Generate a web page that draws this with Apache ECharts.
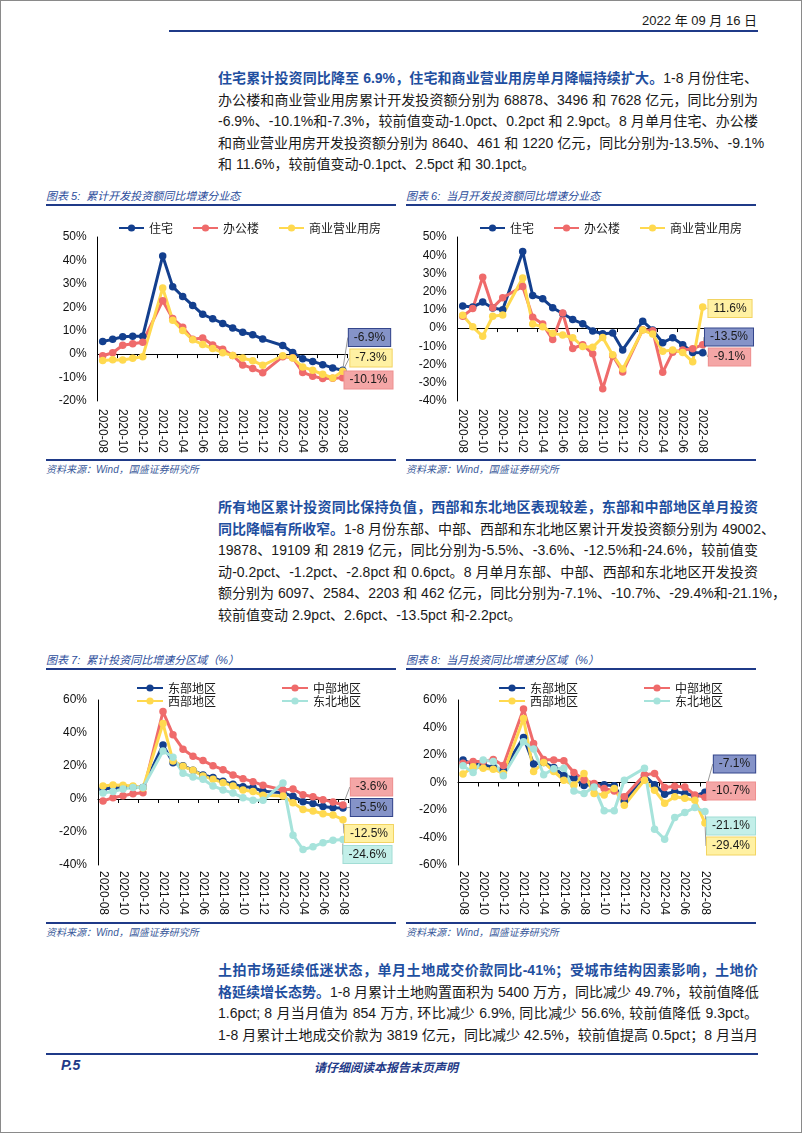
<!DOCTYPE html>
<html><head><meta charset="utf-8">
<script src="https://cdn.jsdelivr.net/npm/echarts@6/dist/echarts.min.js"></script>
<style>
html,body{margin:0;padding:0;background:#fff;}
#page{position:relative;width:802px;height:1133px;box-sizing:border-box;border:1px solid #8a8a8a;overflow:hidden;font-family:"Liberation Sans","Noto Sans CJK SC",sans-serif;color:#1a1a1a;}
.abs{position:absolute;}
.hline{position:absolute;height:2px;background:#1f3a88;}
.para{position:absolute;left:217px;width:540px;font-size:14px;line-height:21.6px;}
.para div{white-space:nowrap;text-align:justify;text-align-last:justify;}
.para div.last{text-align-last:left;}
.b{color:#1f4fa0;font-weight:bold;}
.ttl{position:absolute;font-size:11px;font-style:italic;color:#2b4c9b;white-space:nowrap;}
.src{position:absolute;font-size:10px;font-style:italic;color:#3a5a9a;white-space:nowrap;}
.chart{position:absolute;width:360px;height:250px;}
</style></head>
<body><div id="page">
<div class="abs" style="right:44px;top:9px;font-size:13px;">2022 年 09 月 16 日</div>
<div class="hline" style="left:168px;top:29px;width:589px;"></div>

<div class="para" style="top:67px;">
<div><span class="b">住宅累计投资同比降至 6.9%，住宅和商业营业用房单月降幅持续扩大。</span>1-8 月份住宅、</div>
<div>办公楼和商业营业用房累计开发投资额分别为 68878、3496 和 7628 亿元，同比分别为</div>
<div>-6.9%、-10.1%和-7.3%，较前值变动-1.0pct、0.2pct 和 2.9pct。8 月单月住宅、办公楼</div>
<div>和商业营业用房开发投资额分别为 8640、461 和 1220 亿元，同比分别为-13.5%、-9.1%</div>
<div class="last">和 11.6%，较前值变动-0.1pct、2.5pct 和 30.1pct。</div>
</div>

<div class="ttl" style="left:45px;top:186px;">图表 5:&nbsp; 累计开发投资额同比增速分业态</div>
<div class="hline" style="left:45px;top:203px;width:350px;"></div>
<div class="ttl" style="left:405px;top:186px;">图表 6:&nbsp; 当月开发投资额同比增速分业态</div>
<div class="hline" style="left:405px;top:203px;width:350px;"></div>
<div id="c5" class="chart" style="left:40px;top:205px;"></div>
<div id="c6" class="chart" style="left:400px;top:205px;"></div>
<div class="hline" style="left:45px;top:458px;width:350px;"></div>
<div class="src" style="left:45px;top:460px;">资料来源：Wind，国盛证券研究所</div>
<div class="hline" style="left:405px;top:458px;width:350px;"></div>
<div class="src" style="left:405px;top:460px;">资料来源：Wind，国盛证券研究所</div>

<div class="para" style="top:496px;">
<div class="b">所有地区累计投资同比保持负值，西部和东北地区表现较差，东部和中部地区单月投资</div>
<div><span class="b">同比降幅有所收窄。</span>1-8 月份东部、中部、西部和东北地区累计开发投资额分别为 49002、</div>
<div>19878、19109 和 2819 亿元，同比分别为-5.5%、-3.6%、-12.5%和-24.6%，较前值变</div>
<div>动-0.2pct、-1.2pct、-2.8pct 和 0.6pct。8 月单月东部、中部、西部和东北地区开发投资</div>
<div>额分别为 6097、2584、2203 和 462 亿元，同比分别为-7.1%、-10.7%、-29.4%和-21.1%，</div>
<div class="last">较前值变动 2.9pct、2.6pct、-13.5pct 和-2.2pct。</div>
</div>

<div class="ttl" style="left:45px;top:650px;">图表 7:&nbsp; 累计投资同比增速分区域（%）</div>
<div class="hline" style="left:45px;top:667px;width:350px;"></div>
<div class="ttl" style="left:405px;top:650px;">图表 8:&nbsp; 当月投资同比增速分区域（%）</div>
<div class="hline" style="left:405px;top:667px;width:350px;"></div>
<div id="c7" class="chart" style="left:40px;top:670px;"></div>
<div id="c8" class="chart" style="left:400px;top:670px;"></div>
<div class="hline" style="left:45px;top:921px;width:350px;"></div>
<div class="src" style="left:45px;top:923px;">资料来源：Wind，国盛证券研究所</div>
<div class="hline" style="left:405px;top:921px;width:350px;"></div>
<div class="src" style="left:405px;top:923px;">资料来源：Wind，国盛证券研究所</div>

<div class="para" style="top:959px;">
<div class="b">土拍市场延续低迷状态，单月土地成交价款同比-41%；受城市结构因素影响，土地价</div>
<div><span class="b">格延续增长态势。</span>1-8 月累计土地购置面积为 5400 万方，同比减少 49.7%，较前值降低</div>
<div>1.6pct; 8 月当月值为 854 万方, 环比减少 6.9%, 同比减少 56.6%, 较前值降低 9.3pct。</div>
<div>1-8 月累计土地成交价款为 3819 亿元，同比减少 42.5%，较前值提高 0.5pct；8 月当月</div>
</div>

<div class="hline" style="left:45px;top:1052px;width:712px;"></div>
<div class="abs" style="left:60px;top:1056px;font-size:14px;font-weight:bold;font-style:italic;color:#1f3a88;">P.5</div>
<div class="abs" style="left:313px;top:1057px;font-size:12px;font-weight:bold;font-style:italic;color:#1f3a88;">请仔细阅读本报告末页声明</div>
</div>

<script>
const months = ['2020-08','2020-09','2020-10','2020-11','2020-12','2021-01','2021-02','2021-03','2021-04','2021-05','2021-06','2021-07','2021-08','2021-09','2021-10','2021-11','2021-12','2022-01','2022-02','2022-03','2022-04','2022-05','2022-06','2022-07','2022-08'];

// 图表5 累计开发投资额同比 (%)
const res5    = [5.4, 6.3, 7.4, 7.6, 7.6, null, 41.9, 28.8, 24.6, 20.8, 17.0, 15.1, 13.1, 11.1, 9.3, 8.3, 6.4, null, 3.7, 0.7, -2.0, -3.1, -4.5, -5.9, -6.9];
const office5 = [-0.7, 0.6, 3.8, 4.4, 5.1, null, 22.8, 15.2, 11.5, 6.3, 6.9, 3.9, 2.1, -0.6, -4.6, -6.1, -8.0, null, -1.1, -1.5, -7.8, -9.4, -10.4, -10.3, -10.1];
const comm5   = [-2.7, -2.4, -2.5, -1.8, -1.1, null, 28.2, 14.5, 10.1, 6.1, 4.1, 2.4, 0.6, -0.6, -1.7, -2.8, -4.8, null, -0.7, -1.7, -5.5, -6.9, -8.6, -10.2, -7.3];

// 图表6 当月开发投资额同比 (%)
const res6    = [12.1, 11.6, 14.3, 11.0, 10.1, null, 42.0, 17.9, 16.1, 11.2, 8.0, 4.7, 2.4, -1.6, -3.1, -2.7, -12.0, null, 3.8, -1.1, -8.0, -5.3, -9.1, -13.4, -13.5];
const office6 = [6.5, 10.7, 27.9, 11.2, 16.7, null, 22.8, 6.0, 2.2, -6.3, 8.3, -11.2, -9.1, -14.1, -33.3, -15.2, -24.1, null, -0.9, -1.4, -24.3, -13.2, -12.0, -11.4, -9.1];
const comm6   = [7.1, 0.7, -4.5, 6.5, 7.2, null, 27.5, 2.2, 0.7, -2.9, -3.8, -5.3, -10.1, -10.5, -5.1, -14.7, -22.5, null, -1.1, -3.3, -12.7, -12.0, -13.4, -18.5, 11.6];

// 图表7 累计投资同比分区域 (%)
const east7    = [6.1, 6.7, 7.3, 7.3, 6.9, null, 32.8, 21.9, 20.2, 17.4, 14.6, 13.0, 10.7, 8.9, 7.5, 6.9, 4.7, null, 3.8, 1.6, -1.6, -2.8, -4.5, -5.3, -5.5];
const central7 = [-1.2, 0.8, 2.0, 3.2, 3.8, null, 53.0, 38.9, 30.2, 25.9, 23.3, 20.2, 17.8, 14.6, 12.3, 10.5, 8.3, null, 5.5, 6.1, 2.6, 1.4, -0.4, -1.8, -3.6];
const west7    = [7.9, 8.5, 8.3, 7.9, 6.7, null, 45.7, 23.1, 19.8, 17.4, 14.0, 11.9, 9.9, 7.9, 5.5, 4.5, 2.2, null, 1.8, -2.2, -6.3, -7.3, -8.9, -9.7, -12.5];
const ne7      = [3.6, 4.5, 6.1, 6.9, 6.9, null, 29.1, 25.3, 15.6, 13.4, 11.9, 7.9, 5.5, 3.6, 0.8, -0.8, -0.8, null, 9.7, -21.9, -30.6, -29.0, -26.5, -25.0, -24.6];

// 图表8 当月投资同比分区域 (%)
const east8    = [16.3, 13.4, 12.9, 10.9, 9.0, null, 32.8, 13.4, 14.6, 10.9, 4.9, 3.2, -2.2, -1.2, -1.7, -2.4, -13.8, null, 5.1, -1.7, -8.5, -6.6, -8.0, -9.7, -7.1];
const central8 = [14.0, 15.3, 15.3, 16.8, 12.4, null, 53.4, 28.4, 16.8, 16.3, 15.8, 7.3, 1.9, -0.7, -4.4, -6.1, -10.4, null, 5.6, 6.6, -3.6, -2.7, -3.2, -9.0, -10.7];
const west8    = [6.1, 11.4, 10.4, 9.7, 6.6, null, 46.6, 8.0, 14.6, 8.0, 1.7, -1.9, 6.6, -8.0, -9.0, -4.4, -16.5, null, 1.7, -5.6, -15.1, -10.4, -11.4, -12.9, -29.4];
const ne8      = [12.1, 7.3, 16.3, 15.3, 4.9, null, 29.6, 24.3, 5.6, 10.0, 10.4, -6.1, -8.0, -3.2, -20.6, -20.6, 1.7, null, 10.4, -34.0, -41.3, -25.5, -21.9, -18.2, -21.1];

const typeNames = ['住宅', '办公楼', '商业营业用房'];
const regionNames = ['东部地区', '中部地区', '西部地区', '东北地区'];

const C = {blue:'#133f8e', red:'#ef6b6b', yellow:'#ffd94f', teal:'#a6e3db'};
const BOX = {
  blue:  {bg:'#8593c8', bd:'#34468c'},
  red:   {bg:'#f4a6a6', bd:'#ef9090'},
  yellow:{bg:'#fff1a3', bd:'#f2d462'},
  teal:  {bg:'#c3efe9', bd:'#a2ddd5'}
};
const FONT = '"Liberation Sans", "Noto Sans CJK SC", sans-serif';
const LAST = months.length - 1;

function mkSeries(name, arr, color, box, pos) {
  const data = arr.map((v, i) => i === LAST ? {
    value: v,
    label: {
      show: true, formatter: v.toFixed(1) + '%',
      backgroundColor: box.bg, borderColor: box.bd, borderWidth: 1,
      padding: [3, 5, 2, 5], color: '#1a1a1a', fontSize: 12, fontFamily: FONT
    }
  } : v);
  return {
    name: name, type: 'line', data: data, xAxisIndex: 0,
    connectNulls: true, symbol: 'circle', symbolSize: 7.5,
    showSymbol: true, showAllSymbol: true,
    lineStyle: {color: color, width: 3}, itemStyle: {color: color},
    emphasis: {disabled: true},
    label: {show: false},
    labelLine: {show: true, lineStyle: {color: '#9a9a9a', width: 1}},
    labelLayout: function (p) {
      if (p.dataIndex === LAST) return {x: pos[0], y: pos[1], align: 'center', verticalAlign: 'middle'};
      return {};
    }
  };
}

function baseOption(grid, yMin, yMax, yInt, xMargin) {
  return {
    animation: false,
    textStyle: {fontFamily: FONT},
    grid: grid,
    xAxis: [{
      type: 'category', data: months, position: 'bottom', boundaryGap: true,
      axisLine: {onZero: true, lineStyle: {color: '#000', width: 1}},
      axisTick: {show: true, interval: 1, length: 4, lineStyle: {color: '#000'}},
      axisLabel: {show: false}, splitLine: {show: false}
    }, {
      type: 'category', data: months, position: 'bottom', boundaryGap: true,
      axisLine: {show: false, onZero: false}, axisTick: {show: false},
      axisLabel: {interval: 1, rotate: -90, margin: xMargin, fontSize: 12, color: '#111', fontFamily: FONT},
      splitLine: {show: false}
    }],
    yAxis: {
      type: 'value', min: yMin, max: yMax, interval: yInt,
      axisLine: {show: true, lineStyle: {color: '#000', width: 1}},
      axisTick: {show: false}, splitLine: {show: false},
      axisLabel: {formatter: '{value}%', fontSize: 12, color: '#111', margin: 11, fontFamily: FONT}
    }
  };
}

function legendItem(name, left, top) {
  return {
    data: [name], left: left, top: top, itemWidth: 26, itemHeight: 9, itemGap: 19,
    textStyle: {fontSize: 12, color: '#1a1a1a', fontFamily: '"Noto Sans CJK SC", sans-serif'}
  };
}

// Chart 5
(function () {
  const ch = echarts.init(document.getElementById('c5'), null, {renderer: 'canvas'});
  const opt = baseOption({left: 56.7, top: 31, width: 250, height: 166}, -20, 50, 10, 8);
  opt.legend = {
    data: typeNames, left: 72, top: 11, itemWidth: 25, itemHeight: 9, itemGap: 19,
    textStyle: {fontSize: 12, color: '#1a1a1a', fontFamily: '"Noto Sans CJK SC", sans-serif'}
  };
  opt.series = [
    mkSeries(typeNames[0], res5, C.blue, BOX.blue, [328.5, 131.5]),
    mkSeries(typeNames[1], office5, C.red, BOX.red, [327.5, 174]),
    mkSeries(typeNames[2], comm5, C.yellow, BOX.yellow, [330, 152])
  ];
  ch.setOption(opt);
})();

// Chart 6
(function () {
  const ch = echarts.init(document.getElementById('c6'), null, {renderer: 'canvas'});
  const opt = baseOption({left: 56.7, top: 31, width: 250, height: 166}, -40, 50, 10, 8);
  opt.legend = {
    data: typeNames, left: 73, top: 11, itemWidth: 25, itemHeight: 9, itemGap: 19,
    textStyle: {fontSize: 12, color: '#1a1a1a', fontFamily: '"Noto Sans CJK SC", sans-serif'}
  };
  opt.series = [
    mkSeries(typeNames[0], res6, C.blue, BOX.blue, [328, 131]),
    mkSeries(typeNames[1], office6, C.red, BOX.red, [328.5, 151]),
    mkSeries(typeNames[2], comm6, C.yellow, BOX.yellow, [329, 102.5])
  ];
  ch.setOption(opt);
})();

// Chart 7
(function () {
  const ch = echarts.init(document.getElementById('c7'), null, {renderer: 'canvas'});
  const opt = baseOption({left: 57, top: 29, width: 250, height: 165}, -40, 60, 20, 6);
  opt.legend = [
    legendItem(regionNames[0], 90, 6), legendItem(regionNames[1], 235, 6),
    legendItem(regionNames[2], 90, 19), legendItem(regionNames[3], 235, 19)
  ];
  opt.series = [
    mkSeries(regionNames[0], east7, C.blue, BOX.blue, [330.5, 136.5]),
    mkSeries(regionNames[1], central7, C.red, BOX.red, [330.5, 116]),
    mkSeries(regionNames[2], west7, C.yellow, BOX.yellow, [328, 162.5]),
    mkSeries(regionNames[3], ne7, C.teal, BOX.teal, [326.5, 183.5])
  ];
  ch.setOption(opt);
})();

// Chart 8
(function () {
  const ch = echarts.init(document.getElementById('c8'), null, {renderer: 'canvas'});
  const opt = baseOption({left: 57, top: 29, width: 252, height: 165}, -60, 60, 20, 6);
  opt.legend = [
    legendItem(regionNames[0], 92, 6), legendItem(regionNames[1], 237, 6),
    legendItem(regionNames[2], 92, 19), legendItem(regionNames[3], 237, 19)
  ];
  opt.series = [
    mkSeries(regionNames[0], east8, C.blue, BOX.blue, [333.5, 93]),
    mkSeries(regionNames[1], central8, C.red, BOX.red, [330, 120]),
    mkSeries(regionNames[2], west8, C.yellow, BOX.yellow, [330, 175]),
    mkSeries(regionNames[3], ne8, C.teal, BOX.teal, [330, 155])
  ];
  ch.setOption(opt);
})();
</script>
</body></html>
